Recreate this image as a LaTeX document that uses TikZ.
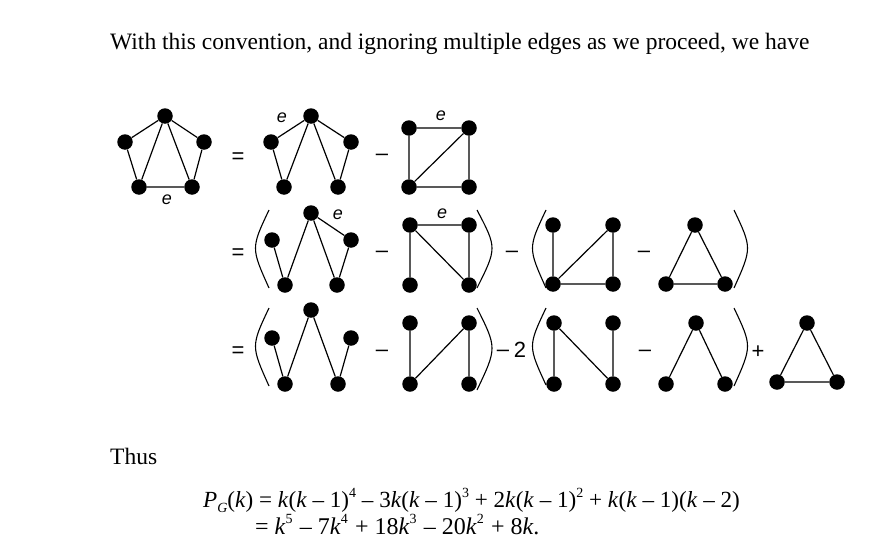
\documentclass[tikz,border=0pt]{standalone}
\usepackage{fontspec}
\setmainfont{Liberation Serif}
\newfontfamily\lsans{Liberation Sans}
\newcommand{\vk}{\textit{k}}
\newcommand{\supr}[1]{\raisebox{0.42em}{\fontsize{14}{14}\selectfont #1}}
\newcommand{\suprb}[1]{\raisebox{0.42em}{\fontsize{14}{14}\selectfont #1}\hspace{1.2pt}}
\tikzset{
  dot/.style={circle,fill=black,draw=none,inner sep=0pt,minimum size=15.5pt},
  edge/.style={draw=black,line width=1.2pt},
  paren/.style={draw=black,line width=1.1pt},
  elabel/.style={font=\lsans\itshape\fontsize{18}{18}\selectfont,inner sep=0pt},
  oper/.style={font=\lsans\fontsize{22}{22}\selectfont,inner sep=0pt},
  para/.style={font=\fontsize{23.5}{26}\selectfont,anchor=base west,inner sep=0pt},
  eqn/.style={font=\fontsize{23.1}{26}\selectfont,anchor=base west,inner sep=0pt},
  eqnb/.style={font=\fontsize{24}{26}\selectfont,anchor=base west,inner sep=0pt}
}
\begin{document}
\begin{tikzpicture}[x=1pt,y=-1pt]
\useasboundingbox (0,0) rectangle (878,546);
\fill[white] (0,0) rectangle (878,546);

\node[para] (head) at (110,49) {With this convention, and ignoring multiple edges as we proceed, we have};

% row 1
\node[dot] (a1) at (165,116) {}; \node[dot] (a2) at (125,142) {}; \node[dot] (a3) at (204,142) {};
\node[dot] (a4) at (139,187) {}; \node[dot] (a5) at (192,187) {};
\draw[edge] (a1)--(a2) (a1)--(a4) (a1)--(a5) (a1)--(a3) (a2)--(a4) (a3)--(a5) (a4)--(a5);
\node[elabel] (ae) at (167,200) {e};
\node[oper] (eq1) at (238,158) {=};

\node[dot] (b1) at (311,116) {}; \node[dot] (b2) at (271,142) {}; \node[dot] (b3) at (351,142) {};
\node[dot] (b4) at (284,187) {}; \node[dot] (b5) at (338,187) {};
\draw[edge] (b1)--(b2) (b1)--(b4) (b1)--(b5) (b1)--(b3) (b2)--(b4) (b3)--(b5);
\node[elabel] (be) at (282,118) {e};
\node[oper] (m1) at (382,157) {–};

\node[dot] (c1) at (409,128) {}; \node[dot] (c2) at (469,128) {};
\node[dot] (c3) at (409,187) {}; \node[dot] (c4) at (469,187) {};
\draw[edge] (c1)--(c2) (c1)--(c3) (c2)--(c4) (c2)--(c3) (c3)--(c4);
\node[elabel] (ce) at (441,116) {e};

% row 2
\node[oper] (eq2) at (238,254) {=};
\draw[paren] (269,210) .. controls (251,248) .. (269,288);
\node[dot] (d1) at (311,213) {}; \node[dot] (d2) at (272,240) {}; \node[dot] (d3) at (351,240) {};
\node[dot] (d4) at (285,285) {}; \node[dot] (d5) at (337,285) {};
\draw[edge] (d2)--(d4) (d1)--(d4) (d1)--(d5) (d1)--(d3) (d3)--(d5);
\node[elabel] (de) at (338,215) {e};
\node[oper] (m2) at (382,254) {–};
\node[dot] (f1) at (410,225) {}; \node[dot] (f2) at (469,225) {};
\node[dot] (f3) at (410,285) {}; \node[dot] (f4) at (469,285) {};
\draw[edge] (f1)--(f2) (f1)--(f3) (f1)--(f4) (f2)--(f4);
\node[elabel] (fe) at (442,214) {e};
\draw[paren] (477,210) .. controls (497,248) .. (477,288);
\node[oper] (m3) at (512,254) {–};
\draw[paren] (546,210) .. controls (528,248) .. (546,288);
\node[dot] (g1) at (553,225) {}; \node[dot] (g2) at (613,225) {};
\node[dot] (g3) at (553,284) {}; \node[dot] (g4) at (613,284) {};
\draw[edge] (g1)--(g3) (g3)--(g2) (g2)--(g4) (g3)--(g4);
\node[oper] (m4) at (644,254) {–};
\node[dot] (h1) at (695,225) {}; \node[dot] (h2) at (666,284) {}; \node[dot] (h3) at (725,284) {};
\draw[edge] (h1)--(h2) (h1)--(h3) (h2)--(h3);
\draw[paren] (734,210) .. controls (752,248) .. (734,288);

% row 3
\node[oper] (eq3) at (238,352) {=};
\draw[paren] (269,308) .. controls (251,346) .. (269,386);
\node[dot] (i1) at (311,310) {}; \node[dot] (i2) at (272,338) {}; \node[dot] (i3) at (351,338) {};
\node[dot] (i4) at (285,384) {}; \node[dot] (i5) at (338,384) {};
\draw[edge] (i2)--(i4) (i1)--(i4) (i1)--(i5) (i3)--(i5);
\node[oper] (m5) at (382,353) {–};
\node[dot] (j1) at (410,323) {}; \node[dot] (j2) at (469,323) {};
\node[dot] (j3) at (410,384) {}; \node[dot] (j4) at (469,384) {};
\draw[edge] (j1)--(j3) (j3)--(j2) (j2)--(j4);
\draw[paren] (477,308) .. controls (497,348) .. (477,390);
\node[oper] (m6) at (503,353) {–};
\node[oper] (two) at (520,350) {2};
\draw[paren] (546,308) .. controls (528,346) .. (546,385);
\node[dot] (k1) at (554,323) {}; \node[dot] (k2) at (613,323) {};
\node[dot] (k3) at (554,384) {}; \node[dot] (k4) at (613,384) {};
\draw[edge] (k1)--(k3) (k1)--(k4) (k2)--(k4);
\node[oper] (m7) at (645,353) {–};
\node[dot] (l1) at (696,323) {}; \node[dot] (l2) at (666,384) {}; \node[dot] (l3) at (725,384) {};
\draw[edge] (l1)--(l2) (l1)--(l3);
\draw[paren] (734,308) .. controls (752,346) .. (734,386);
\node[oper] (p1) at (758,352) {+};
\node[dot] (n1) at (807,323) {}; \node[dot] (n2) at (777,382) {}; \node[dot] (n3) at (837,382) {};
\draw[edge] (n1)--(n2) (n1)--(n3) (n2)--(n3);

% text
\node[para] (thus) at (110,464) {Thus};
\node[eqn] (e1) at (203,507) {\textit{P}\raisebox{-0.25em}{\fontsize{14}{14}\selectfont\textit{G}}(\vk) = \vk(\vk{} – 1)\supr{4} – 3\vk(\vk{} – 1)\supr{3} + 2\vk(\vk{} – 1)\supr{2} + \vk(\vk{} – 1)(\vk{} – 2)};
\node[eqnb] (e2) at (255,534) {= \vk\suprb{5} – 7\vk\suprb{4} + 18\vk\suprb{3} – 20\vk\suprb{2} + 8\vk.};
\end{tikzpicture}
\end{document}
